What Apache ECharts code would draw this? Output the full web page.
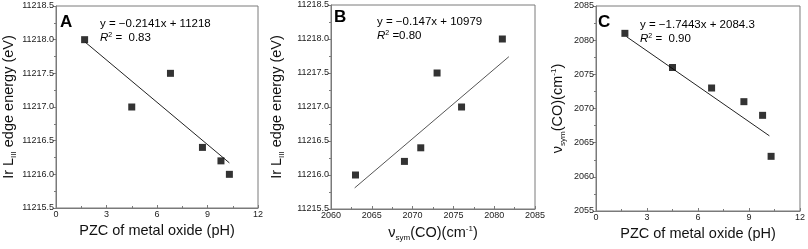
<!DOCTYPE html>
<html><head><meta charset="utf-8">
<script src="https://cdn.jsdelivr.net/npm/echarts@6/dist/echarts.min.js"></script>
<style>html,body{margin:0;padding:0;background:#fff}#c{width:808px;height:249px}</style>
</head><body><div id="c"></div>
<script>
// Panel A: PZC vs Ir LIII edge energy
const aX = [1.7, 4.5, 6.8, 8.7, 9.8, 10.3];
const aY = [11218.0, 11217.0, 11217.5, 11216.4, 11216.2, 11216.0];
const aFitX = [1.75, 10.3];
const aFitY = [11217.96, 11216.17];
// Panel B: nu_sym(CO) vs Ir LIII edge energy
const bX = [2063, 2069, 2071, 2073, 2076, 2081];
const bY = [11216.0, 11216.2, 11216.4, 11217.5, 11217.0, 11218.0];
const bFitX = [2062.9, 2081.8];
const bFitY = [11215.81, 11217.74];
// Panel C: PZC vs nu_sym(CO)
const cX = [1.7, 4.5, 6.8, 8.7, 9.8, 10.3];
const cY = [2081, 2076, 2073, 2071, 2069, 2063];
const cFitX = [1.8, 10.2];
const cFitY = [2080.5, 2066.0];
// Tick settings
const pzcTicks = {min: 0, max: 12, interval: 3};
const energyTicks = {min: 11215.5, max: 11218.5, interval: 0.5};
const nuXTicks = {min: 2060, max: 2085, interval: 5};
const nuYTicks = {min: 2055, max: 2085, interval: 5};
const eqA = ['y = \u22120.2141x + 11218', '0.83'];
const eqB = ['y = \u22120.147x + 10979', '0.80'];
const eqC = ['y = \u22121.7443x + 2084.3', '0.90'];

const FONT = 'Liberation Sans, Arial, sans-serif';
const zip = (xs, ys) => xs.map((x, i) => [x, ys[i]]);
const axisCol = '#7a7a7a';
const nameRich = {
  n: {fontSize: 14.5, fontFamily: FONT, color: '#111'},
  sub: {fontSize: 8, fontFamily: FONT, color: '#111', padding: [10, 0, 0, 0]},
  sup: {fontSize: 8, fontFamily: FONT, color: '#111', padding: [0, 0, 8, 0]}
};
const irName = '{n|Ir L}{sub|III}{n| edge energy (eV)}';
const nuName = '{n|\u03bd}{sub|sym}{n|(CO)(cm}{sup|-1}{n|)}';
const pzcName = '{n|PZC of metal oxide (pH)}';

function xAxis(gi, t, name, fmt) {
  return {type: 'value', gridIndex: gi, min: t.min, max: t.max, interval: t.interval,
    name: name, nameLocation: 'middle', nameGap: 15, nameTextStyle: {rich: nameRich},
    axisLine: {lineStyle: {color: axisCol}}, axisTick: {inside: true, length: 3, lineStyle: {color: axisCol}},
    minorTick: {show: true, splitNumber: 2, length: 2, lineStyle: {color: axisCol}},
    splitLine: {show: false},
    axisLabel: {fontSize: 9, fontFamily: FONT, color: '#222', margin: 2, formatter: fmt || (v => String(v))}};
}
function yAxis(gi, t, name, gap, fmt) {
  return {type: 'value', gridIndex: gi, min: t.min, max: t.max, interval: t.interval,
    name: name, nameLocation: 'middle', nameGap: gap, nameRotate: 90, nameTextStyle: {rich: nameRich},
    axisLine: {lineStyle: {color: axisCol}}, axisTick: {inside: false, length: 3, lineStyle: {color: axisCol}},
    minorTick: {show: true, splitNumber: 2, length: 2, lineStyle: {color: axisCol}},
    splitLine: {show: false},
    axisLabel: {fontSize: 9, fontFamily: FONT, color: '#222', margin: 2, formatter: fmt || (v => String(v))}};
}
const scatter = (i, xs, ys) => ({type: 'scatter', xAxisIndex: i, yAxisIndex: i, data: zip(xs, ys),
  symbol: 'rect', symbolSize: 7, itemStyle: {color: '#000'}, z: 3});
const fit = (i, xs, ys, col) => ({type: 'line', xAxisIndex: i, yAxisIndex: i, data: zip(xs, ys),
  symbol: 'none', lineStyle: {color: col || '#222', width: 1}, z: 2});

const grids = [
  {left: 56, top: 6, width: 202, height: 202},
  {left: 331, top: 5, width: 204, height: 204},
  {left: 596, top: 6, width: 207, height: 205}
];
const eqRich = {
  t: {fontSize: 11.5, fontFamily: FONT, color: '#111', lineHeight: 14},
  r: {fontSize: 11.5, fontFamily: FONT, color: '#111', fontStyle: 'italic', lineHeight: 14},
  s: {fontSize: 7, fontFamily: FONT, color: '#111', padding: [0, 0, 6, 0], lineHeight: 14}
};
function texts(label, eq, lx, ly, ex, ey, rsep) {
  return [
    {type: 'text', left: lx, top: ly, style: {text: label, font: 'bold 17px ' + FONT, fill: '#000'}},
    {type: 'text', left: ex, top: ey, style: {text: '{t|' + eq[0] + '}\n{r|R}{s|2}{t|' + rsep + eq[1] + '}', rich: eqRich}}
  ];
}
const fmt1 = v => v.toFixed(1);
const option = {
  animation: false,
  grid: grids.map(g => Object.assign({show: true, borderColor: axisCol, borderWidth: 1, backgroundColor: 'transparent'}, g)),
  xAxis: [xAxis(0, pzcTicks, pzcName), xAxis(1, nuXTicks, nuName), xAxis(2, pzcTicks, pzcName)],
  yAxis: [yAxis(0, energyTicks, irName, 37, fmt1), yAxis(1, energyTicks, irName, 45, fmt1), yAxis(2, nuYTicks, nuName, 29)],
  series: [scatter(0, aX, aY), fit(0, aFitX, aFitY), scatter(1, bX, bY), fit(1, bFitX, bFitY, '#555'), scatter(2, cX, cY), fit(2, cFitX, cFitY)],
  graphic: [].concat(
    texts('A', eqA, 60, 14, 100, 18, ' =  '),
    texts('B', eqB, 334, 9, 377, 16, ' ='),
    texts('C', eqC, 598, 14, 640, 19, ' =  ')
  )
};
echarts.init(document.getElementById('c')).setOption(option);
</script></body></html>
